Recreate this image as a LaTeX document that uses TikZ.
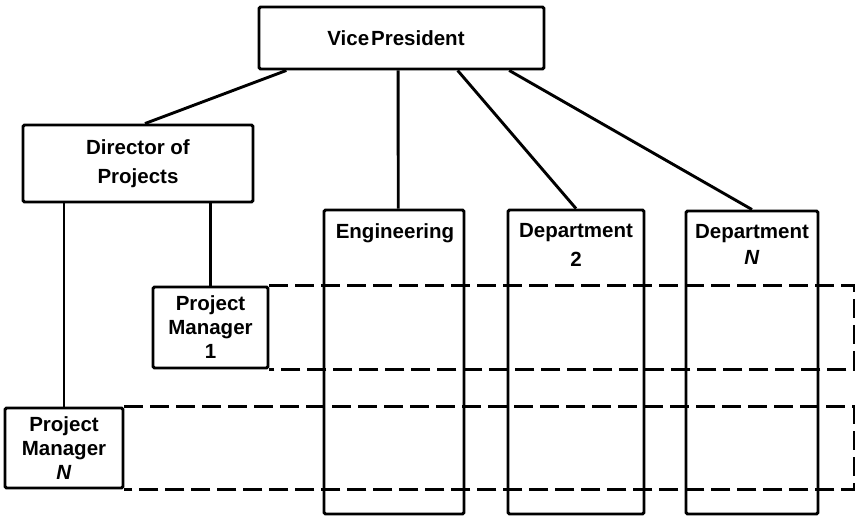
\documentclass[tikz,border=0pt]{standalone}
\usepackage{fontspec}
\setmainfont{Liberation Sans}
\usetikzlibrary{calc}
\begin{document}
\begin{tikzpicture}[x=1pt,y=-1pt,
  box/.style={draw, line width=2.9pt, rounded corners=1.5pt, inner sep=0pt, align=center},
  link/.style={line width=2.9pt},
  group/.style={line width=2.8pt, dash pattern=on 19pt off 7pt},
  txt/.style={font=\bfseries\fontsize{20.5}{24}\selectfont},
  lbl/.style={anchor=north, inner sep=0pt, align=center}
]
\useasboundingbox (0,0) rectangle (859,518);

% management boxes
\node[box, minimum width=285pt, minimum height=62pt] (vp) at (401.5,38) {};
\node[txt, inner sep=0pt] (vpT) at (396,38) {Vice\hspace{2pt}President};
\node[box, font=\bfseries\fontsize{20.5}{29}\selectfont, minimum width=230pt, minimum height=77pt] (dir) at (138,163.5)
  {Director of\\Projects};
\node[box, txt, minimum width=115pt, minimum height=81pt] (pm1) at (210.5,327.5)
  {Project\\Manager\\1};
\node[box, txt, minimum width=118pt, minimum height=80pt] (pmn) at (64,448)
  {Project\\Manager\\\textit{N}};

% functional departments
\node[box, minimum width=140pt, minimum height=304pt] (eng) at (394,362) {};
\node[box, minimum width=136pt, minimum height=304pt] (dep2) at (576,362) {};
\node[box, minimum width=132pt, minimum height=303pt] (depn) at (752,362.5) {};

\node[lbl, txt] (engT) at (395,223.5) {Engineering};
\node[lbl, font=\bfseries\fontsize{20.5}{29}\selectfont] (dep2T) at (576,223.5) {Department\\2};
\node[lbl, font=\bfseries\fontsize{20.5}{26}\selectfont] (depnT) at (752,224.5) {Department\\\textit{N}};

% reporting lines
\draw[link] ($(vp.south west)!0.10!(vp.south east)$) -- ($(dir.north west)!0.53!(dir.north east)$);
\draw[link] ($(vp.south west)!0.488!(vp.south east)$) -- ($(eng.north west)!0.53!(eng.north east)$);
\draw[link] ($(vp.south west)!0.695!(vp.south east)$) -- (dep2.north);
\draw[link] ($(vp.south west)!0.874!(vp.south east)$) -- (depn.north);
\draw[link] (pm1.north |- dir.south) -- (pm1.north);
\draw[link] (pmn.north |- dir.south) -- (pmn.north);

% project groups across the departments
\coordinate (edge) at (854,0);
\draw[group] (pm1.north east) -- (pm1.north east -| edge) -- (pm1.south east -| edge) -- (pm1.south east);
\draw[group] (pmn.north east) -- (pmn.north east -| edge) -- (pmn.south east -| edge) -- (pmn.south east);
\end{tikzpicture}
\end{document}
